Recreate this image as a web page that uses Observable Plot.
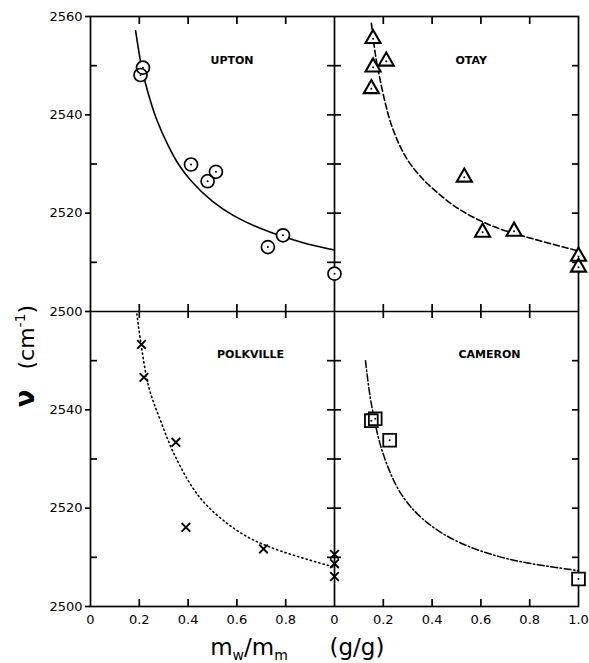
<!DOCTYPE html>
<html><head><meta charset="utf-8">
<script src="https://cdn.jsdelivr.net/npm/d3@7"></script>
<script src="https://cdn.jsdelivr.net/npm/@observablehq/plot@0.6"></script>
<style>body{margin:0;background:#fff} svg{font-family:"DejaVu Sans",sans-serif}</style>
</head><body><div id="chart"></div>
<script>
// ---- data (x = m_w/m_m in g/g, y = wavenumber in cm^-1) ----
const uptonX = [0.205, 0.215, 0.412, 0.480, 0.514, 0.727, 0.789, 1.0];
const uptonY = [2548.1, 2549.6, 2529.9, 2526.5, 2528.4, 2513.1, 2515.5, 2507.7];
const uptonCurveX = [0.185, 0.210, 0.233, 0.270, 0.316, 0.360, 0.412, 0.500, 0.590, 0.727, 0.864, 1.0];
const uptonCurveY = [2557.1, 2549.6, 2545.0, 2539.2, 2534.0, 2530.0, 2526.6, 2522.4, 2519.4, 2516.3, 2514.1, 2512.5];

const otayX = [0.158, 0.212, 0.158, 0.151, 0.532, 0.607, 0.736, 1.0, 1.0];
const otayY = [2555.5, 2550.9, 2549.7, 2545.3, 2527.3, 2516.1, 2516.3, 2511.2, 2509.0];
const otayCurveX = [0.151, 0.170, 0.185, 0.210, 0.233, 0.265, 0.301, 0.350, 0.396, 0.505, 0.641, 0.777, 1.0];
const otayCurveY = [2558.6, 2551.5, 2547.6, 2542.0, 2538.0, 2534.0, 2530.7, 2527.6, 2525.3, 2521.0, 2517.5, 2515.3, 2512.3];

const polkvilleX = [0.209, 0.219, 0.350, 0.391, 0.709, 1.0, 1.0, 1.0];
const polkvilleY = [2553.3, 2546.6, 2533.4, 2516.1, 2511.7, 2510.6, 2508.7, 2506.1];
const polkvilleCurveX = [0.190, 0.205, 0.239, 0.287, 0.342, 0.417, 0.478, 0.560, 0.642, 0.724, 0.847, 1.0];
const polkvilleCurveY = [2559.5, 2554.1, 2544.6, 2537.8, 2531.1, 2524.3, 2520.5, 2516.9, 2514.2, 2512.3, 2510.2, 2508.0];

const cameronX = [0.151, 0.167, 0.226, 1.0];
const cameronY = [2537.8, 2538.2, 2533.8, 2505.6];
const cameronCurveX = [0.127, 0.151, 0.199, 0.273, 0.369, 0.505, 0.709, 1.0];
const cameronCurveY = [2550.0, 2541.2, 2531.1, 2522.9, 2517.5, 2513.2, 2509.7, 2507.3];

const panelNames = ["UPTON", "OTAY", "POLKVILLE", "CAMERON"];
const panelCol = [0, 1, 0, 1];
const panelRow = [1, 1, 0, 0];   // 1 = top row
const labelX = [0.58, 0.56, 0.656, 0.635];
const labelY = [2551, 2551, 2551.2, 2551.2];

const xTicks = [0, 0.2, 0.4, 0.6, 0.8, 1.0, 1.2, 1.4, 1.6, 1.8, 2.0];
const xTickLabels = ["0", "0.2", "0.4", "0.6", "0.8", "0", "0.2", "0.4", "0.6", "0.8", "1.0"];
const xMinorTicks = [0.2, 0.4, 0.6, 0.8, 1.2, 1.4, 1.6, 1.8];
const yTicks = [2500, 2520, 2540, 2560, 2580, 2600, 2620];
const yTickLabels = ["2500", "2520", "2540", "2500", "2520", "2540", "2560"];
const yMinorTicks = [2510, 2530, 2550, 2570, 2590, 2610];
const yAllTicks = [2510, 2520, 2530, 2540, 2550, 2570, 2580, 2590, 2600, 2610];

// ---- layout: stack panels into one coordinate system ----
const ROW_SPAN = 60, COL_SPAN = 1;
function pts(xs, ys, i) {
  return xs.map((x, k) => ({x: x + COL_SPAN * panelCol[i], y: ys[k] + ROW_SPAN * panelRow[i]}));
}
const upton = pts(uptonX, uptonY, 0), uptonC = pts(uptonCurveX, uptonCurveY, 0);
const otay = pts(otayX, otayY, 1), otayC = pts(otayCurveX, otayCurveY, 1);
const polk = pts(polkvilleX, polkvilleY, 2), polkC = pts(polkvilleCurveX, polkvilleCurveY, 2);
const cam = pts(cameronX, cameronY, 3), camC = pts(cameronCurveX, cameronCurveY, 3);
const labels = panelNames.map((n, i) => ({name: n, x: labelX[i] + COL_SPAN * panelCol[i], y: labelY[i] + ROW_SPAN * panelRow[i]}));

const xFmt = v => xTickLabels[xTicks.findIndex(t => Math.abs(t - v) < 1e-9)];
const yFmt = v => yTickLabels[yTicks.indexOf(v)];

const SW = 1.7;
const markers = (data, symbol, r, sw) => [
  Plot.dot(data, {x: "x", y: "y", symbol, r, fill: "white", stroke: "none"}),
  Plot.dot(data, {x: "x", y: "y", symbol, r, fill: "none", stroke: "black", strokeWidth: sw}),
  Plot.dot(data, {x: "x", y: "y", r: 1, fill: "black", stroke: "none"})
];

const plot = Plot.plot({
  width: 589, height: 663,
  marginLeft: 90, marginRight: 11, marginTop: 16, marginBottom: 57,
  x: {domain: [0, 2]},
  y: {domain: [2500, 2620]},
  style: {fontFamily: "DejaVu Sans, sans-serif", background: "white", color: "black"},
  marks: [
    // curves
    Plot.line(uptonC, {x: "x", y: "y", curve: "catmull-rom", stroke: "black", strokeWidth: 1.6}),
    Plot.line(otayC, {x: "x", y: "y", curve: "catmull-rom", stroke: "black", strokeWidth: 1.6, strokeDasharray: "6,3"}),
    Plot.line(polkC, {x: "x", y: "y", curve: "catmull-rom", stroke: "black", strokeWidth: 1.6, strokeDasharray: "1.2,3.2"}),
    Plot.line(camC, {x: "x", y: "y", curve: "catmull-rom", stroke: "black", strokeWidth: 1.5, strokeDasharray: "7,2.5,1.5,2.5"}),
    // frame and panel dividers
    Plot.frame({stroke: "black", strokeWidth: SW}),
    Plot.ruleX([1], {stroke: "black", strokeWidth: SW}),
    Plot.ruleY([2560], {stroke: "black", strokeWidth: SW}),
    // divider ticks (crossing)
    Plot.ruleY(yAllTicks, {x1: () => 1, x2: () => 1, insetLeft: -7, insetRight: -7, strokeWidth: SW}),
    Plot.ruleX(xMinorTicks, {y1: () => 2560, y2: () => 2560, insetTop: -7, insetBottom: -7, strokeWidth: SW}),
    // axes
    Plot.axisY(yTicks, {anchor: "left", tickSize: 5, tickPadding: 3, tickFormat: yFmt, fontSize: 13, label: null, strokeWidth: SW}),
    Plot.axisY(yMinorTicks, {anchor: "left", tickSize: 7, dx: 7, tickFormat: () => "", label: null, strokeWidth: SW}),
    Plot.axisY(yAllTicks, {anchor: "right", tickSize: 7, dx: -7, tickFormat: () => "", label: null, strokeWidth: SW}),
    Plot.axisX(xMinorTicks, {anchor: "top", tickSize: 7, dy: 7, tickFormat: () => "", label: null, strokeWidth: SW}),
    Plot.axisX(xMinorTicks, {anchor: "bottom", tickSize: 7, dy: -7, tickFormat: () => "", label: null, strokeWidth: SW}),
    Plot.axisX(xTicks, {anchor: "bottom", tickSize: 0, tickPadding: 8, tickFormat: xFmt, fontSize: 13, label: null}),
    // markers
    ...markers(upton, "circle", 6.5, 1.7),
    ...markers(otay, "triangle", 5.6, 2.1),
    Plot.dot(polk, {x: "x", y: "y", symbol: "times", r: 4, stroke: "black", strokeWidth: 1.9}),
    ...markers(cam, "square", 7.2, 1.8),
    // panel labels
    Plot.text(labels, {x: "x", y: "y", text: "name", fontSize: 11, fontWeight: "bold", fill: "black"})
  ]
});
document.getElementById("chart").appendChild(plot);

// axis titles with sub/superscripts
const svg = d3.select(plot);
const xl = svg.append("text").attr("x", 249).attr("y", 655).attr("font-size", 23).attr("fill", "black");
xl.append("tspan").text("m");
xl.append("tspan").attr("font-size", 14).attr("dy", 5).text("w");
xl.append("tspan").attr("dy", -5).text("/m");
xl.append("tspan").attr("font-size", 14).attr("dy", 5).text("m");
xl.append("tspan").attr("dy", -5).attr("x", 357).text("(g/g)");

const yl = svg.append("text").attr("transform", "translate(34,356) rotate(-90)").attr("font-size", 22).attr("fill", "black");
yl.append("tspan").attr("font-size", 26).attr("font-weight", "bold").text("ν");
yl.append("tspan").attr("dx", 20).text("(cm");
yl.append("tspan").attr("font-size", 14).attr("dy", -9).text("-1");
yl.append("tspan").attr("dy", 9).text(")");
</script>
</body></html>
